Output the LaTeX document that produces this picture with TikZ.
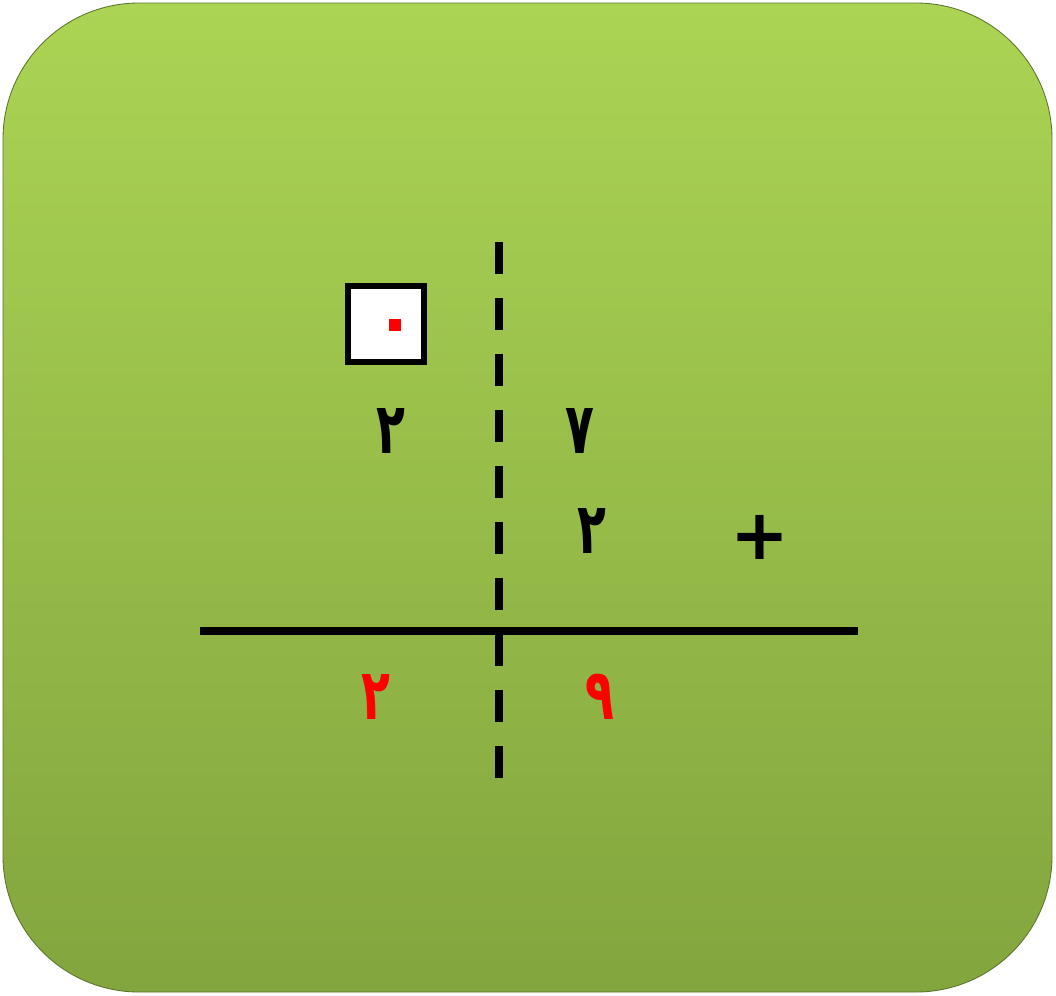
\documentclass[tikz,border=0pt]{standalone}
\usepackage{graphicx}
\usepackage{fontspec}
\newfontfamily\arabicfont[Script=Arabic]{DejaVu Sans}
\TeXXeTstate=1
\definecolor{boardtop}{RGB}{171,212,84}
\definecolor{boardbottom}{RGB}{131,165,62}
\newcommand{\narrowdigit}[1]{\scalebox{0.7}[1.05]{\beginR #1\endR}}
\tikzset{
  digit/.style={font=\arabicfont\bfseries\fontsize{48}{52}\selectfont, inner sep=0pt},
  thickline/.style={line width=5.7pt},
}
\begin{document}
\begin{tikzpicture}
   [x=0.025cm, y=-0.025cm]
   \useasboundingbox (0,0) rectangle (1056,995);
   \shade[top color=boardtop, bottom color=boardbottom, draw=boardbottom!70!black,
      line width=0.6pt, rounded corners=3.4cm] (3,3) rectangle (1052,992);

   % the two axes
   \coordinate (hleft) at (200,631);
   \coordinate (hright) at (858,631);
   \coordinate (vtop) at (499,242);
   \coordinate (vbottom) at (499,778);
   \draw[thickline] (hleft) -- (hright);
   \draw[thickline, dash pattern=on 0.8cm off 0.6cm] (vtop) -- (vbottom);

   % empty box with its red mark
   \node[draw, fill=white, line width=3.8pt, minimum size=1.9cm, inner sep=0pt] (box) at (386,324) {};
   \node[fill=red, minimum size=0.3cm, inner sep=0pt] (dot) at (395,325) {};

   \node[digit] (topleft) at (391,431) {\narrowdigit{٢}};
   \node[digit] (topright) at (580,431) {\narrowdigit{٧}};
   \node[digit] (midright) at (592,531) {\narrowdigit{٢}};
   \node[font=\arabicfont\bfseries\fontsize{50}{54}\selectfont, inner sep=0pt] (plus) at (760,537) {+};

   \node[digit, text=red] (resleft) at (376,697) {\narrowdigit{٢}};
   \node[digit, text=red] (resright) at (600,697) {\narrowdigit{٩}};
\end{tikzpicture}
\end{document}
